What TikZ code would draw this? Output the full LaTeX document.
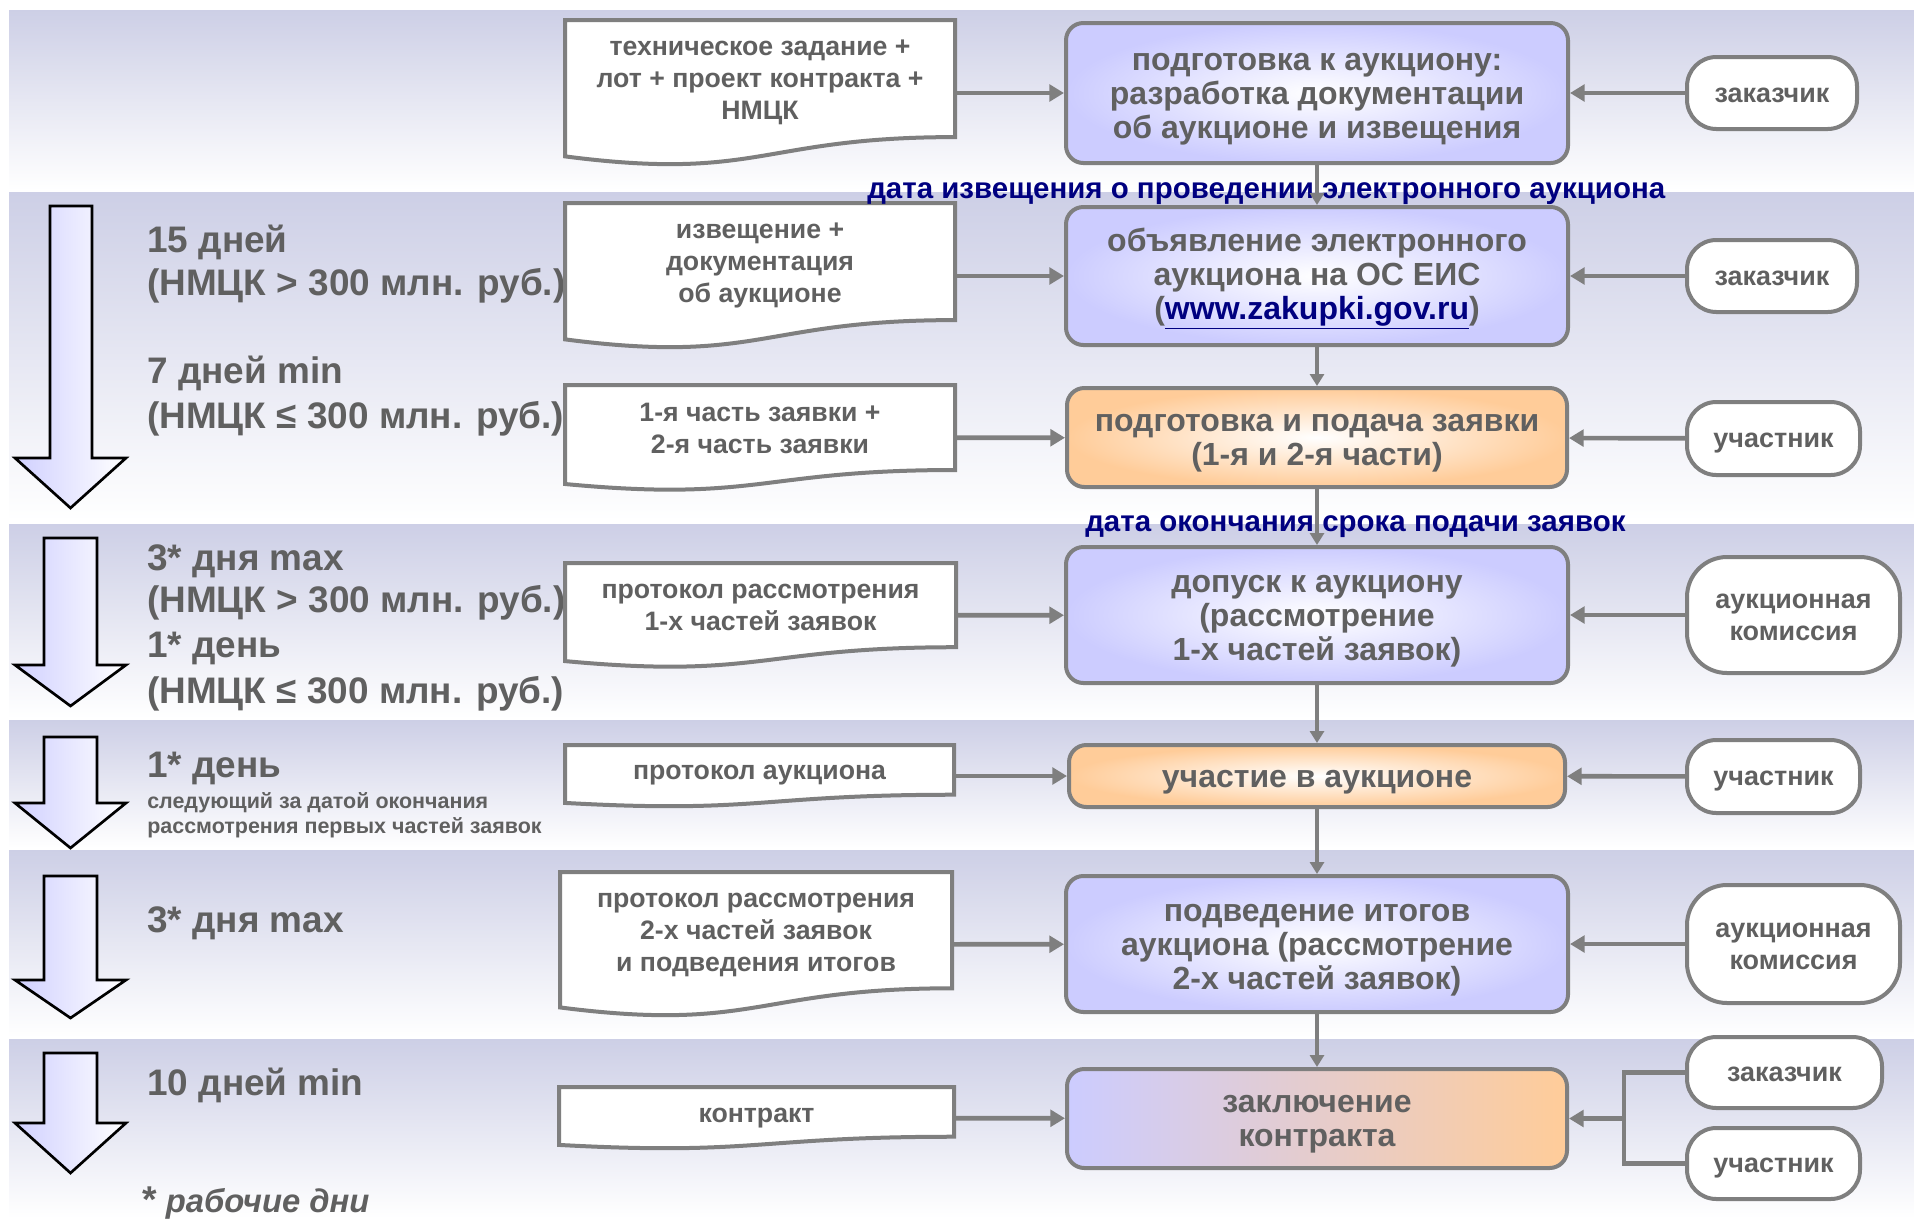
\documentclass[tikz,border=0pt]{standalone}
\usepackage{fontspec}
\setmainfont{Liberation Sans}
\usetikzlibrary{arrows.meta,calc}
\definecolor{bandc}{HTML}{CDCFE6}
\definecolor{lav}{HTML}{CCCCFF}
\definecolor{org}{HTML}{FFCC99}
\definecolor{lgray}{HTML}{7F7F7F}
\definecolor{tgray}{HTML}{606060}
\definecolor{navy}{HTML}{000080}
\definecolor{arrl}{HTML}{D0D0FF}
\newcommand{\procfont}{\fontsize{24}{25.5}\selectfont\bfseries}
\newcommand{\docfont}{\fontsize{20}{24}\selectfont\bfseries}
\newcommand{\actfont}{\fontsize{20.2}{24}\selectfont\bfseries}
\newcommand{\bigfont}{\fontsize{27.7}{32}\selectfont\bfseries}
\newcommand{\smallfont}{\fontsize{16.1}{19}\selectfont\bfseries}
\newcommand{\bluefont}{\fontsize{22.1}{25}\selectfont\bfseries}
% struts placed inside the first / last text line
\newcommand{\asctop}{\rule{0pt}{0.905em}}
\newcommand{\ascbot}{\rule[-0.212em]{0pt}{0.212em}}
\newcommand{\xtop}{\rule{0pt}{0.8em}}
\newcommand{\xbot}{\rule[-0.27em]{0pt}{0.27em}}
\tikzset{
 wh/.style 2 args={minimum width={#1*0.75pt}, minimum height={#2*0.75pt}},
 procbase/.style={draw=lgray, line width=3pt, rounded corners=13pt, align=center, text=tgray, font=\procfont, inner sep=0pt},
 proclav/.style={procbase, inner color=white, outer color=lav},
 procorg/.style={procbase, inner color=white, outer color=org},
 procmix/.style={procbase, left color=lav, right color=org},
 actor/.style={draw=lgray, line width=3pt, fill=white, rounded corners=22pt, align=center, text=tgray, font=\actfont, inner sep=0pt},
 actorbig/.style={actor, rounded corners=30pt},
 docframe/.style={inner sep=0pt, outer sep=0pt},
 docline/.style={draw=lgray, line width=3pt, fill=white},
 doctext/.style={align=center, text=tgray, font=\docfont, inner sep=0pt},
 lefttxt/.style={anchor=base west, inner sep=0pt, text=tgray, font=\bigfont},
 smalltxt/.style={anchor=base west, inner sep=0pt, text=tgray, font=\smallfont},
 bluetxt/.style={anchor=base west, inner sep=0pt, text=navy, font=\bluefont},
 harr/.style={draw=lgray, line width=3.5pt, -{Triangle[length=11pt,width=12.5pt]}},
 hline/.style={draw=lgray, line width=3.5pt},
 varr/.style={draw=lgray, line width=2.3pt, -{Triangle[length=9pt,width=10.5pt]}},
 bigarrow/.style={draw=black, line width=2pt, left color=arrl, right color=white},
}
% name, cx, cy, W, H, text-centre y, text
\newcommand{\docbox}[7]{%
 \node[docframe, wh={#4}{#5}] (#1) at (#2,#3) {};
 \draw[docline] (#1.north west) -- (#1.north east) -- ($(#1.north east)!0.802!(#1.south east)$)
   .. controls ($(#1.north)!0.802!(#1.south)$) and ($(#1.north)!1.1075!(#1.south)$) ..
   ($(#1.north west)!0.934!(#1.south west)$) -- cycle;
 \node[doctext] (#1t) at (#2,#6) {\xtop #7\xbot};
}
% L, R, top, head top, tip
\newcommand{\bigarr}[5]{%
 \draw[bigarrow] (#1,#3) -- (#2,#3) -- (#2,#4) -- (126,#4) -- (70.5,#5) -- (15,#4) -- (#1,#4) -- cycle;
}
\begin{document}
\begin{tikzpicture}[x=0.75pt,y=-0.75pt]
\useasboundingbox (0,0) rectangle (1914,1218);
% bands
\shade[top color=bandc, bottom color=white] (9,10) rectangle (1914,190);
\shade[top color=bandc, bottom color=white] (9,192) rectangle (1914,521);
\shade[top color=bandc, bottom color=white] (9,524) rectangle (1914,718);
\shade[top color=bandc, bottom color=white] (9,720) rectangle (1914,848);
\shade[top color=bandc, bottom color=white] (9,850) rectangle (1914,1037);
\shade[top color=bandc, bottom color=white] (9,1039) rectangle (1914,1218);
% big arrows
\bigarr{50}{92}{206}{458}{508}
\bigarr{44}{97}{538}{665}{706}
\bigarr{44}{97}{737}{803}{848}
\bigarr{44}{97}{876}{980}{1018}
\bigarr{44}{97}{1053}{1123}{1173}
% left texts
\node[lefttxt] (t1a) at (147,252) {15 дней};
\node[lefttxt] (t1b) at (147,295) {(НМЦК > 300 млн. руб.)};
\node[lefttxt] (t1c) at (147,383) {7 дней min};
\node[lefttxt] (t1d) at (147,428) {(НМЦК ≤ 300 млн. руб.)};
\node[lefttxt] (t2a) at (147,570) {3* дня max};
\node[lefttxt] (t2b) at (147,612) {(НМЦК > 300 млн. руб.)};
\node[lefttxt] (t2c) at (147,657) {1* день};
\node[lefttxt] (t2d) at (147,703) {(НМЦК ≤ 300 млн. руб.)};
\node[lefttxt] (t3a) at (147,777) {1* день};
\node[smalltxt] (t3b) at (147,808) {следующий за датой окончания};
\node[smalltxt] (t3c) at (147,833) {рассмотрения первых частей заявок};
\node[lefttxt] (t4a) at (147,932) {3* дня max};
\node[lefttxt] (t5a) at (147,1095) {10 дней min};
\node[lefttxt, font=\fontsize{24.6}{28}\selectfont\bfseries] (foot) at (142,1212) {{\fontsize{28}{28}\selectfont *} \itshape рабочие дни};
% documents
\docbox{d1}{760}{93}{390}{146}{80}{техническое задание +\\лот + проект контракта +\\НМЦК}
\docbox{d2}{760}{276}{390}{146}{263}{извещение +\\документация\\об аукционе}
\docbox{d3}{760}{438}{390}{106}{430}{1-я часть заявки +\\2-я часть заявки}
\docbox{d4}{760.5}{615.5}{391}{105}{607}{протокол рассмотрения\\1-х частей заявок}
\docbox{d5}{759.5}{776}{389}{62}{772}{протокол аукциона}
\docbox{d6}{756}{944.5}{392}{145}{932}{протокол рассмотрения\\2-х частей заявок\\и подведения итогов}
\docbox{d7}{756.5}{1118}{395}{62}{1115}{контракт}
% process boxes
\node[proclav, wh={502}{140}] (b1) at (1317,93) {\asctop подготовка к аукциону:\\разработка документации\\об аукционе и извещения\ascbot};
\node[proclav, wh={502}{138}] (b2) at (1317,276) {\asctop объявление электронного\\аукциона на ОС ЕИС\\(\textcolor{navy}{\underline{www.zakupki.gov.ru}})\ascbot};
\node[procorg, wh={500}{99}] (b3) at (1317,437.5) {\asctop подготовка и подача заявки\\(1-я и 2-я части)\ascbot};
\node[proclav, wh={502}{136}] (b4) at (1317,615) {\asctop допуск к аукциону\\(рассмотрение\\1-х частей заявок)\ascbot};
\node[procorg, wh={496}{62}] (b5) at (1317,776) {\asctop участие в аукционе\ascbot};
\node[proclav, wh={502}{136}] (b6) at (1317,944) {\asctop подведение итогов\\аукциона (рассмотрение\\2-х частей заявок)\ascbot};
\node[procmix, wh={500}{99}] (b7) at (1317,1118.5) {\asctop заключение\\контракта\ascbot};
% blue dates
\node[bluetxt] (dt1) at (867,198) {дата извещения о проведении электронного аукциона};
\node[bluetxt] (dt2) at (1085,531) {дата окончания срока подачи заявок};
% actors
\node[actor, wh={170}{72}] (a1) at (1772,93) {\asctop заказчик\ascbot};
\node[actor, wh={170}{72}] (a2) at (1772,276) {\asctop заказчик\ascbot};
\node[actor, wh={173}{73}] (a3) at (1773.5,438.5) {\asctop участник\ascbot};
\node[actorbig, wh={213}{116}] (a4) at (1793.5,615) {\asctop аукционная\\комиссия\ascbot};
\node[actor, wh={173}{73}] (a5) at (1773.5,776.5) {\asctop участник\ascbot};
\node[actorbig, wh={213}{118}] (a6) at (1793.5,944) {\asctop аукционная\\комиссия\ascbot};
\node[actor, wh={195}{71}] (a7a) at (1784.5,1072.5) {\asctop заказчик\ascbot};
\node[actor, wh={173}{71}] (a7b) at (1773.5,1163.5) {\asctop участник\ascbot};
\coordinate (j7) at (1624,1118.5);
% connectors docs -> boxes
\draw[harr] (d1) -- (b1);
\draw[harr] (d2) -- (b2);
\draw[harr] (d3) -- (b3);
\draw[harr] (d4) -- (b4);
\draw[harr] (d5) -- (b5);
\draw[harr] (d6) -- (b6);
\draw[harr] (d7) -- (b7);
% actors -> boxes
\draw[harr] (a1) -- (b1);
\draw[harr] (a2) -- (b2);
\draw[harr] (a3) -- (b3);
\draw[harr] (a4) -- (b4);
\draw[harr] (a5) -- (b5);
\draw[harr] (a6) -- (b6);
\draw[hline] (a7a.west) -| (j7) |- (a7b.west);
\draw[harr] (j7) -- (b7.east);
% vertical flow
\draw[varr] (b1) -- (b2);
\draw[varr] (b2) -- (b3);
\draw[varr] (b3) -- (b4);
\draw[varr] (b4) -- (b5);
\draw[varr] (b5) -- (b6);
\draw[varr] (b6) -- (b7);
\end{tikzpicture}
\end{document}
